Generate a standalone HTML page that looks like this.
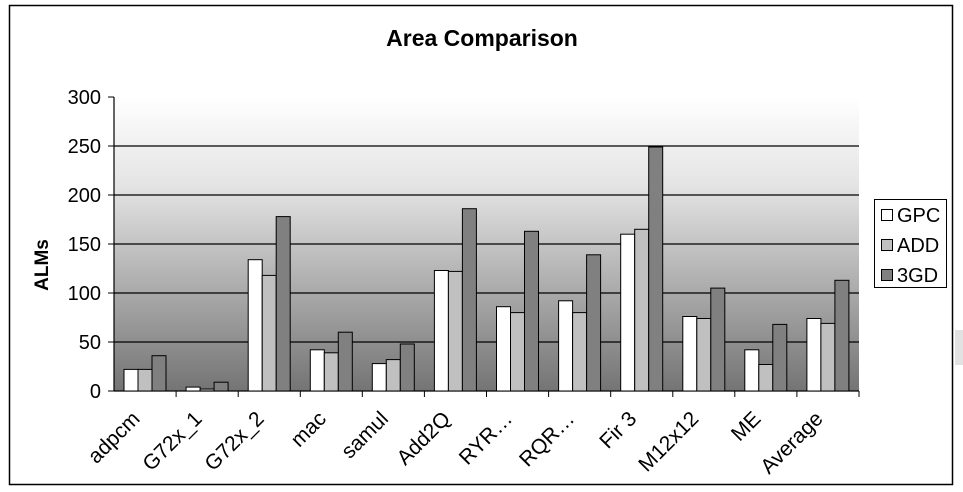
<!DOCTYPE html>
<html><head><meta charset="utf-8"><style>
html,body{margin:0;padding:0;background:#fff;}
svg{display:block;font-family:"Liberation Sans",Arial,sans-serif;}
</style></head><body>
<svg width="963" height="492" viewBox="0 0 963 492" xmlns="http://www.w3.org/2000/svg">
<defs>
<linearGradient id="bg" x1="0" y1="0" x2="0" y2="1">
<stop offset="0" stop-color="#ffffff"/>
<stop offset="0.3" stop-color="#e4e4e4"/>
<stop offset="1" stop-color="#747474"/>
</linearGradient>
</defs>
<rect x="9.5" y="5.5" width="943" height="479" fill="#fff" stroke="#000" stroke-width="1.5"/>
<rect x="955" y="330" width="8" height="35" fill="#e2e2e2"/>
<text x="482" y="46" font-size="23" font-weight="bold" text-anchor="middle">Area Comparison</text>
<rect x="114" y="97" width="745" height="294" fill="url(#bg)"/>
<g stroke="#000" stroke-width="1.2">
<line x1="114" y1="146" x2="859" y2="146"/>
<line x1="114" y1="195" x2="859" y2="195"/>
<line x1="114" y1="244" x2="859" y2="244"/>
<line x1="114" y1="293" x2="859" y2="293"/>
<line x1="114" y1="342" x2="859" y2="342"/>
<line x1="114" y1="97" x2="114" y2="391"/>
<line x1="114" y1="391" x2="859" y2="391"/>
</g>
<g stroke="#000" stroke-width="1">
<line x1="108" y1="97" x2="114" y2="97"/><line x1="108" y1="146" x2="114" y2="146"/><line x1="108" y1="195" x2="114" y2="195"/><line x1="108" y1="244" x2="114" y2="244"/><line x1="108" y1="293" x2="114" y2="293"/><line x1="108" y1="342" x2="114" y2="342"/><line x1="108" y1="391" x2="114" y2="391"/>
</g>
<g font-size="20" text-anchor="end">
<text x="101" y="104">300</text><text x="101" y="153">250</text><text x="101" y="202">200</text><text x="101" y="251">150</text><text x="101" y="300">100</text><text x="101" y="349">50</text><text x="101" y="398">0</text>
</g>
<text transform="translate(48,265) rotate(-90)" font-size="19" font-weight="bold" text-anchor="middle">ALMs</text>
<g id="bars" stroke="#000" stroke-width="1"></g>
<g id="ticks" stroke="#000" stroke-width="1"></g>
<g id="labels" font-size="21" text-anchor="end"></g>
<rect x="874.5" y="199.5" width="72" height="88" fill="#fff" stroke="#000"/>
<rect x="881.5" y="209.5" width="11" height="11" fill="#fff" stroke="#000"/>
<rect x="881.5" y="239.5" width="11" height="11" fill="#c0c0c0" stroke="#000"/>
<rect x="881.5" y="269.5" width="11" height="11" fill="#808080" stroke="#000"/>
<g font-size="20"><text x="897" y="222">GPC</text><text x="897" y="252">ADD</text><text x="897" y="282">3GD</text></g>
<script>
var d=[["adpcm",22,22,36],["G72x_1",4,2,9],["G72x_2",134,118,178],["mac",42,39,60],["samul",28,32,48],["Add2Q",123,122,186],["RYR…",86,80,163],["RQR…",92,80,139],["Fir 3",160,165,249],["M12x12",76,74,105],["ME",42,27,68],["Average",74,69,113]];
var cols=["#ffffff","#c0c0c0","#808080"],ns="http://www.w3.org/2000/svg";
var B=document.getElementById("bars"),T=document.getElementById("ticks"),L=document.getElementById("labels");
var w=745/12;
for(var i=0;i<12;i++){var x0=114+i*w;
for(var j=0;j<3;j++){var v=d[i][j+1],h=v*294/300,r=document.createElementNS(ns,"rect");
r.setAttribute("x",(x0+10+j*14).toFixed(1));r.setAttribute("y",(391-h).toFixed(1));r.setAttribute("width",14);r.setAttribute("height",h.toFixed(1));r.setAttribute("fill",cols[j]);B.appendChild(r);}
var t=document.createElementNS(ns,"line");var tx=(114+(i+1)*w).toFixed(1);t.setAttribute("x1",tx);t.setAttribute("x2",tx);t.setAttribute("y1",391);t.setAttribute("y2",397);T.appendChild(t);
var c=x0+w/2-4,tt=document.createElementNS(ns,"text");tt.setAttribute("transform","translate("+c.toFixed(1)+",420) rotate(-45)");tt.textContent=d[i][0];L.appendChild(tt);}
</script>
</svg>
</body></html>
